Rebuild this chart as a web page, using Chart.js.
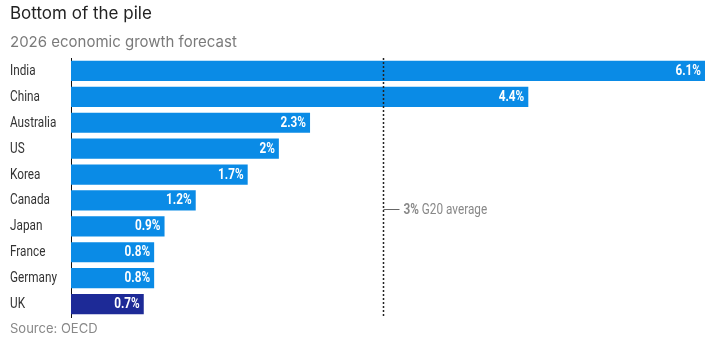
<!DOCTYPE html>
<html>
<head>
<meta charset="utf-8">
<script src="https://cdn.jsdelivr.net/npm/chart.js@4"></script>
<style>
  html, body { margin: 0; padding: 0; background: #fff; }
  #wrap { position: relative; width: 718px; height: 350px; overflow: hidden; }
  canvas { position: absolute; left: 0; top: 0; }
  .titulo { position: absolute; left: 10px; top: 3px; font: 17px "Inter", "Roboto", sans-serif; color: #222; }
  .subtitulo { position: absolute; left: 10px; top: 32px; font: 15px "Inter", "Roboto", sans-serif; color: #7a7a7a; }
  .fuente { position: absolute; left: 10px; top: 320px; font: 13px "Inter", "Roboto", sans-serif; color: #888; }
</style>
</head>
<body>
<div id="wrap">
  <canvas id="grafico" width="718" height="350"></canvas>
  <div class="titulo">Bottom of the pile</div>
  <div class="subtitulo">2026 economic growth forecast</div>
  <div class="fuente">Source: OECD</div>
</div>
<script>
const paises = ["India", "China", "Australia", "US", "Korea", "Canada", "Japan", "France", "Germany", "UK"];
const crecimiento = [6.1, 4.4, 2.3, 2, 1.7, 1.2, 0.9, 0.8, 0.8, 0.7];
const etiquetas = ["6.1%", "4.4%", "2.3%", "2%", "1.7%", "1.2%", "0.9%", "0.8%", "0.8%", "0.7%"];
const promedioG20 = 3;
const promedioTexto = ["3%", " G20 average"];

const fuenteCond = '"Roboto", "Liberation Sans", sans-serif';
const estrecho = 0.84; // no hay fuente condensada instalada: se comprime a mano

const colores = paises.map(p => p === "UK" ? "#1d2a97" : "#0a8be6");

function textoEstrecho(ctx, txt, x, y, align) {
  ctx.save();
  ctx.translate(x, y);
  ctx.scale(estrecho, 1);
  ctx.textAlign = align;
  ctx.fillText(txt, 0, 0);
  ctx.restore();
  return ctx.measureText(txt).width * estrecho;
}

// etiquetas de paises, valores dentro de las barras y linea del promedio
const extras = {
  id: 'extras',
  afterDatasetsDraw(chart) {
    const ctx = chart.ctx;
    const meta = chart.getDatasetMeta(0);
    const ejeY = chart.scales.y;
    ctx.save();
    ctx.textBaseline = 'middle';

    ctx.font = '14px ' + fuenteCond;
    ctx.fillStyle = '#333';
    paises.forEach((p, i) => {
      textoEstrecho(ctx, p, 10, ejeY.getPixelForValue(i) + 0.5, 'left');
    });

    ctx.font = 'bold 14px ' + fuenteCond;
    ctx.fillStyle = '#fff';
    meta.data.forEach((bar, i) => {
      textoEstrecho(ctx, etiquetas[i], bar.x - 4, bar.y + 0.5, 'right');
    });

    // promedio G20
    const x = Math.round(chart.scales.x.getPixelForValue(promedioG20)) + 0.5;
    const area = chart.chartArea;
    ctx.strokeStyle = '#222';
    ctx.lineWidth = 1.5;
    ctx.setLineDash([2, 2]);
    ctx.beginPath();
    ctx.moveTo(x, area.top);
    ctx.lineTo(x, area.bottom);
    ctx.stroke();

    const y = 209.5;
    ctx.setLineDash([]);
    ctx.lineWidth = 1;
    ctx.strokeStyle = '#666';
    ctx.beginPath();
    ctx.moveTo(x, y);
    ctx.lineTo(x + 16, y);
    ctx.stroke();

    ctx.fillStyle = '#888';
    ctx.font = 'bold 14px ' + fuenteCond;
    const w = textoEstrecho(ctx, promedioTexto[0], x + 20, y + 0.5, 'left');
    ctx.font = '14px ' + fuenteCond;
    textoEstrecho(ctx, promedioTexto[1], x + 20 + w, y + 0.5, 'left');
    ctx.restore();
  }
};

new Chart(document.getElementById("grafico"), {
  type: 'bar',
  data: {
    labels: paises,
    datasets: [{
      data: crecimiento,
      backgroundColor: colores,
      borderWidth: 0,
      barPercentage: 0.78,
      categoryPercentage: 1
    }]
  },
  options: {
    indexAxis: 'y',
    responsive: false,
    animation: false,
    layout: { padding: { left: 10, right: 13, top: 58, bottom: 33 } },
    plugins: {
      legend: { display: false },
      tooltip: { enabled: false }
    },
    scales: {
      x: {
        display: false,
        min: 0,
        max: 6.1
      },
      y: {
        grid: { display: false },
        border: { display: true, color: '#111', width: 1 },
        ticks: { display: false },
        afterFit(scale) { scale.width = 61; }
      }
    }
  },
  plugins: [extras]
});
</script>
</body>
</html>
